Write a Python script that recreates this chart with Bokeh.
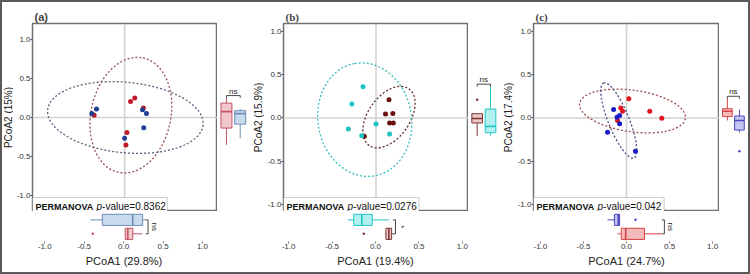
import numpy as np
from bokeh.plotting import figure
from bokeh.layouts import row, column
from bokeh.models import Span, Label, BoxAnnotation, Range1d, FixedTicker, PrintfTickFormatter
from bokeh.core.properties import value
from bokeh.embed import file_html
from bokeh.resources import INLINE

TICKS = [-1.0, -0.5, 0.0, 0.5, 1.0]

# ---------------- PCoA scores (group 1 = red, group 2 = blue/cyan) ----------------
a_g1_pc1 = [0.076, 0.13, 0.24, -0.39, 0.03, 0.017]
a_g1_pc2 = [0.205, 0.25, 0.12, 0.03, -0.19, -0.35]
a_g2_pc1 = [-0.42, -0.36, 0.23, 0.28, 0.245, 0.0]
a_g2_pc2 = [0.05, 0.11, 0.10, 0.05, -0.13, -0.265]

b_g1_pc1 = [0.15, 0.11, 0.195, 0.157, 0.20, -0.135]
b_g1_pc2 = [0.21, 0.046, 0.05, -0.058, -0.058, -0.21]
b_g2_pc1 = [-0.15, -0.28, -0.32, -0.165, 0.0, 0.157]
b_g2_pc2 = [0.36, 0.16, -0.127, -0.205, -0.069, -0.185]

c_g1_pc1 = [0.027, 0.27, 0.41, -0.066, -0.046, -0.104]
c_g1_pc2 = [0.22, 0.077, -0.005, 0.116, 0.077, -0.03]
c_g2_pc1 = [-0.15, -0.08, -0.11, -0.08, -0.22, 0.104]
c_g2_pc2 = [0.096, 0.027, 0.008, -0.066, -0.165, -0.385]

# 95% ellipses: centre x, centre y, semi-axis a, semi-axis b, angle (deg)
a_g1_ellipse = [0.08, 0.03, 0.75, 0.51, 78]
a_g2_ellipse = [0.01, 0.0, 1.0, 0.45, -5.5]
b_g1_ellipse = [0.15, 0.01, 0.40, 0.24, 55]
b_g2_ellipse = [-0.13, -0.02, 0.66, 0.54, 100]
c_g1_ellipse = [0.07, 0.08, 0.62, 0.24, -8]
c_g2_ellipse = [-0.09, -0.03, 0.47, 0.12, 112]

panel_tags = ["(a)", "(b)", "(c)"]
pc1_titles = ["PCoA1 (29.8%)", "PCoA1 (19.4%)", "PCoA1 (24.7%)"]
pc2_titles = ["PCoA2 (15%)", "PCoA2 (15.9%)", "PCoA2 (17.4%)"]
permanova_p = ["0.8362", "0.0276", "0.042"]
pc2_signif = ["ns", "ns", "ns"]
pc1_signif = ["ns", "*", "ns"]

# ---------------- styling ----------------
FONT = "Liberation Sans"
STYLES = [
    dict(pt=("#C01A2A", "#1D3E92"), ell=("#98505A", "#56657E"),
         fill=("#F3C8CC", "#C8DAEE"), edge=("#C25462", "#6E8DB3"),
         xr=(-1.18, 1.19), yr=(-1.2, 1.2), lab=11, left=17, fw=187, right=33,
         tagfont="Liberation Sans"),
    dict(pt=("#6A1010", "#20C2C2"), ell=("#5E3030", "#3CBDBD"),
         fill=("#EDC9C9", "#B2EFEF"), edge=("#7E3434", "#25C6C6"),
         xr=(-1.07, 1.07), yr=(-1.08, 1.09), lab=14, left=18, fw=186, right=32,
         tagfont="Liberation Serif"),
    dict(pt=("#E0141C", "#1C1CC6"), ell=("#9C4A4A", "#4A4C82"),
         fill=("#F6BABA", "#C4C4F0"), edge=("#D84444", "#4848C0"),
         xr=(-1.08, 1.08), yr=(-1.08, 1.09), lab=14, left=19, fw=186, right=29,
         tagfont="Liberation Serif"),
]
TOP = 21
FH = 188
BOX_STRIP = 30
TICK_H = 12
XLAB_H = 19

# glyph advance widths (em) of Liberation Sans, used to lay out the PERMANOVA caption
ADV = {"-": .333, "v": .5, "a": .556, "l": .222, "u": .556, "e": .556, "=": .584, ".": .278}


def text_width(s, size):
    return sum(ADV.get(ch, .556) for ch in s) * size


def box_stats(v):
    v = np.asarray(v, dtype=float)
    q1, med, q3 = np.percentile(v, [25, 50, 75])
    iqr = q3 - q1
    lo_f, hi_f = q1 - 1.5 * iqr, q3 + 1.5 * iqr
    inside = v[(v >= lo_f) & (v <= hi_f)]
    outl = v[(v < lo_f) | (v > hi_f)]
    return q1, med, q3, inside.min(), inside.max(), outl


def bare(fig):
    fig.grid.visible = False
    fig.outline_line_color = None
    return fig


def build_panel(i, g1_pc1, g1_pc2, g2_pc1, g2_pc2, e1, e2):
    st = STYLES[i]
    xr = Range1d(*st["xr"])
    yr = Range1d(*st["yr"])
    x0, x1 = st["xr"]
    y0, y1 = st["yr"]
    px_x = st["fw"] / (x1 - x0)
    px_y = FH / (y1 - y0)
    full_left = st["lab"] + st["left"]

    # ---- rotated PC2 title strip ----
    yl = bare(figure(width=st["lab"], height=TOP + FH, x_range=Range1d(0, 1), y_range=yr,
                     output_backend="svg", toolbar_location=None, x_axis_location=None,
                     y_axis_location=None, min_border=0, min_border_top=TOP))
    yl.text([0.55], [(y0 + y1) / 2], text=[pc2_titles[i]], angle=np.pi / 2,
            text_align="center", text_baseline="middle", text_font=value(FONT),
            text_font_size="10px", text_color="#222222")

    # ---- main ordination plot ----
    p = figure(width=st["left"] + st["fw"], height=TOP + FH, x_range=xr, y_range=yr,
               output_backend="svg", toolbar_location=None, x_axis_location=None,
               min_border_left=st["left"], min_border_right=0, min_border_top=TOP,
               min_border_bottom=0, title=panel_tags[i])
    p.title.text_font = st["tagfont"]
    p.title.text_font_size = "11px"
    p.title.text_font_style = "bold"
    p.title.align = "left"
    p.title.standoff = 2
    p.title.offset = 2
    p.grid.visible = False
    p.outline_line_color = "#707070"
    p.outline_line_width = 1.5
    ax = p.yaxis[0]
    ax.ticker = FixedTicker(ticks=TICKS)
    ax.formatter = PrintfTickFormatter(format="%.1f")
    ax.axis_line_color = None
    ax.major_tick_in = 0
    ax.major_tick_out = 2
    ax.minor_tick_line_color = None
    ax.major_tick_line_color = "#555555"
    ax.major_label_text_font = FONT
    ax.major_label_text_font_size = "8px"
    ax.major_label_text_color = "#333333"
    ax.major_label_standoff = 0

    for dim in ("height", "width"):
        s = Span(location=0, dimension=dim, line_color="#d2d2d2", line_width=1.6)
        s.level = "underlay"
        p.add_layout(s)

    for e, col in ((e1, st["ell"][0]), (e2, st["ell"][1])):
        p.ellipse(x=[e[0]], y=[e[1]], width=[2 * e[2]], height=[2 * e[3]],
                  angle=[e[4]], angle_units="deg", fill_color=None,
                  line_color=col, line_width=1.3, line_dash="2 2")

    p.scatter(g1_pc1, g1_pc2, size=5, fill_color=st["pt"][0], line_color=None)
    p.scatter(g2_pc1, g2_pc2, size=5, fill_color=st["pt"][1], line_color=None)

    # PERMANOVA caption box
    bold_w = 58
    tail = "-value=" + permanova_p[i]
    cap_w = 3 + bold_w + 3 + 5.6 + text_width(tail, 10) + 3
    p.add_layout(BoxAnnotation(right=x0 + cap_w / px_x, top=y0 + 14 / px_y,
                               fill_color="white", fill_alpha=1,
                               line_color="#5a5a5a", line_width=1))
    for txt, off, style, size in (("PERMANOVA", 3, "bold", "9px"),
                                  ("p", 3 + bold_w + 3, "italic", "10px"),
                                  (tail, 3 + bold_w + 3 + 5.6, "normal", "10px")):
        p.add_layout(Label(x=x0, y=y0, x_offset=off, y_offset=5, text=txt,
                           text_font=FONT, text_font_style=style, text_font_size=size,
                           text_baseline="alphabetic", text_color="#111111"))

    # ---- PC2 boxplots on the right ----
    r = bare(figure(width=st["right"], height=TOP + FH, x_range=Range1d(0.35, 2.75), y_range=yr,
                    output_backend="svg", toolbar_location=None, x_axis_location=None,
                    y_axis_location=None, min_border_left=0, min_border_right=0,
                    min_border_top=TOP, min_border_bottom=0))
    for k, vals in enumerate((g1_pc2, g2_pc2)):
        q1, med, q3, lo, hi, outl = box_stats(vals)
        pos = k + 1
        r.segment([pos, pos], [lo, q3], [pos, pos], [q1, hi], line_color=st["edge"][k], line_width=1)
        r.vbar(x=[pos], width=0.8, bottom=[q1], top=[q3], fill_color=st["fill"][k],
               line_color=st["edge"][k], line_width=1)
        r.segment([pos - 0.4], [med], [pos + 0.4], [med], line_color=st["edge"][k], line_width=1.6)
        if len(outl):
            r.scatter([pos] * len(outl), list(outl), size=2.5, fill_color=st["edge"][k], line_color=None)
    top_y = max(max(g1_pc2), max(g2_pc2)) + 0.03
    tip = 0.03
    r.segment([1, 1, 2], [top_y - tip, top_y, top_y], [1, 2, 2], [top_y, top_y, top_y - tip],
              line_color="#333333", line_width=0.9)
    r.text([1.5], [top_y], text=[pc2_signif[i]], text_font=value(FONT), text_font_size="8px",
           text_align="center", text_baseline="bottom", text_color="#222222")

    # ---- PC1 boxplots below, carrying the PC1 tick labels ----
    b = bare(figure(width=full_left + st["fw"], height=BOX_STRIP + TICK_H, x_range=xr,
                    y_range=Range1d(0.45, 2.6), output_backend="svg", toolbar_location=None,
                    y_axis_location=None, min_border_left=full_left, min_border_right=0,
                    min_border_top=0, min_border_bottom=TICK_H))
    bx = b.xaxis[0]
    bx.ticker = FixedTicker(ticks=TICKS)
    bx.formatter = PrintfTickFormatter(format="%.1f")
    bx.axis_line_color = None
    bx.major_tick_in = 0
    bx.major_tick_out = 2
    bx.minor_tick_line_color = None
    bx.major_tick_line_color = "#777777"
    bx.major_label_text_font = FONT
    bx.major_label_text_font_size = "8px"
    bx.major_label_text_color = "#333333"
    bx.major_label_standoff = 0
    for k, vals in enumerate((g1_pc1, g2_pc1)):
        q1, med, q3, lo, hi, outl = box_stats(vals)
        pos = k + 1
        b.segment([lo, q3], [pos, pos], [q1, hi], [pos, pos], line_color=st["edge"][k], line_width=1)
        b.hbar(y=[pos], height=0.8, left=[q1], right=[q3], fill_color=st["fill"][k],
               line_color=st["edge"][k], line_width=1)
        b.segment([med], [pos - 0.4], [med], [pos + 0.4], line_color=st["edge"][k], line_width=1.6)
        if len(outl):
            b.scatter(list(outl), [pos] * len(outl), size=2.5, fill_color=st["edge"][k], line_color=None)
    right_x = max(max(g1_pc1), max(g2_pc1)) + 0.03
    tipx = 0.03
    b.segment([right_x - tipx, right_x, right_x], [1, 1, 2], [right_x, right_x, right_x - tipx], [1, 2, 2],
              line_color="#333333", line_width=0.9)
    b.text([right_x + 0.02], [1.5], text=[pc1_signif[i]], text_font=value(FONT), text_font_size="8px",
           text_align="center", text_baseline="bottom", angle=-np.pi / 2, text_color="#222222")

    # ---- PC1 title strip ----
    xl = bare(figure(width=full_left + st["fw"], height=XLAB_H, x_range=xr, y_range=Range1d(0, 1),
                     output_backend="svg", toolbar_location=None, x_axis_location=None,
                     y_axis_location=None, min_border=0, min_border_left=full_left))
    xl.text([(x0 + x1) / 2], [0.62], text=[pc1_titles[i]], text_align="center",
            text_baseline="middle", text_font=value(FONT), text_font_size="11px",
            text_color="#222222")

    return column(row(yl, p, r), b, xl)


pa = build_panel(0, a_g1_pc1, a_g1_pc2, a_g2_pc1, a_g2_pc2, a_g1_ellipse, a_g2_ellipse)
pb = build_panel(1, b_g1_pc1, b_g1_pc2, b_g2_pc1, b_g2_pc2, b_g1_ellipse, b_g2_ellipse)
pc = build_panel(2, c_g1_pc1, c_g1_pc2, c_g2_pc1, c_g2_pc2, c_g1_ellipse, c_g2_ellipse)

root = row(pa, pb, pc, styles={"border": "2px solid #5a5a5a", "background-color": "white"})
open("out.html", "w").write(file_html(root, INLINE))
